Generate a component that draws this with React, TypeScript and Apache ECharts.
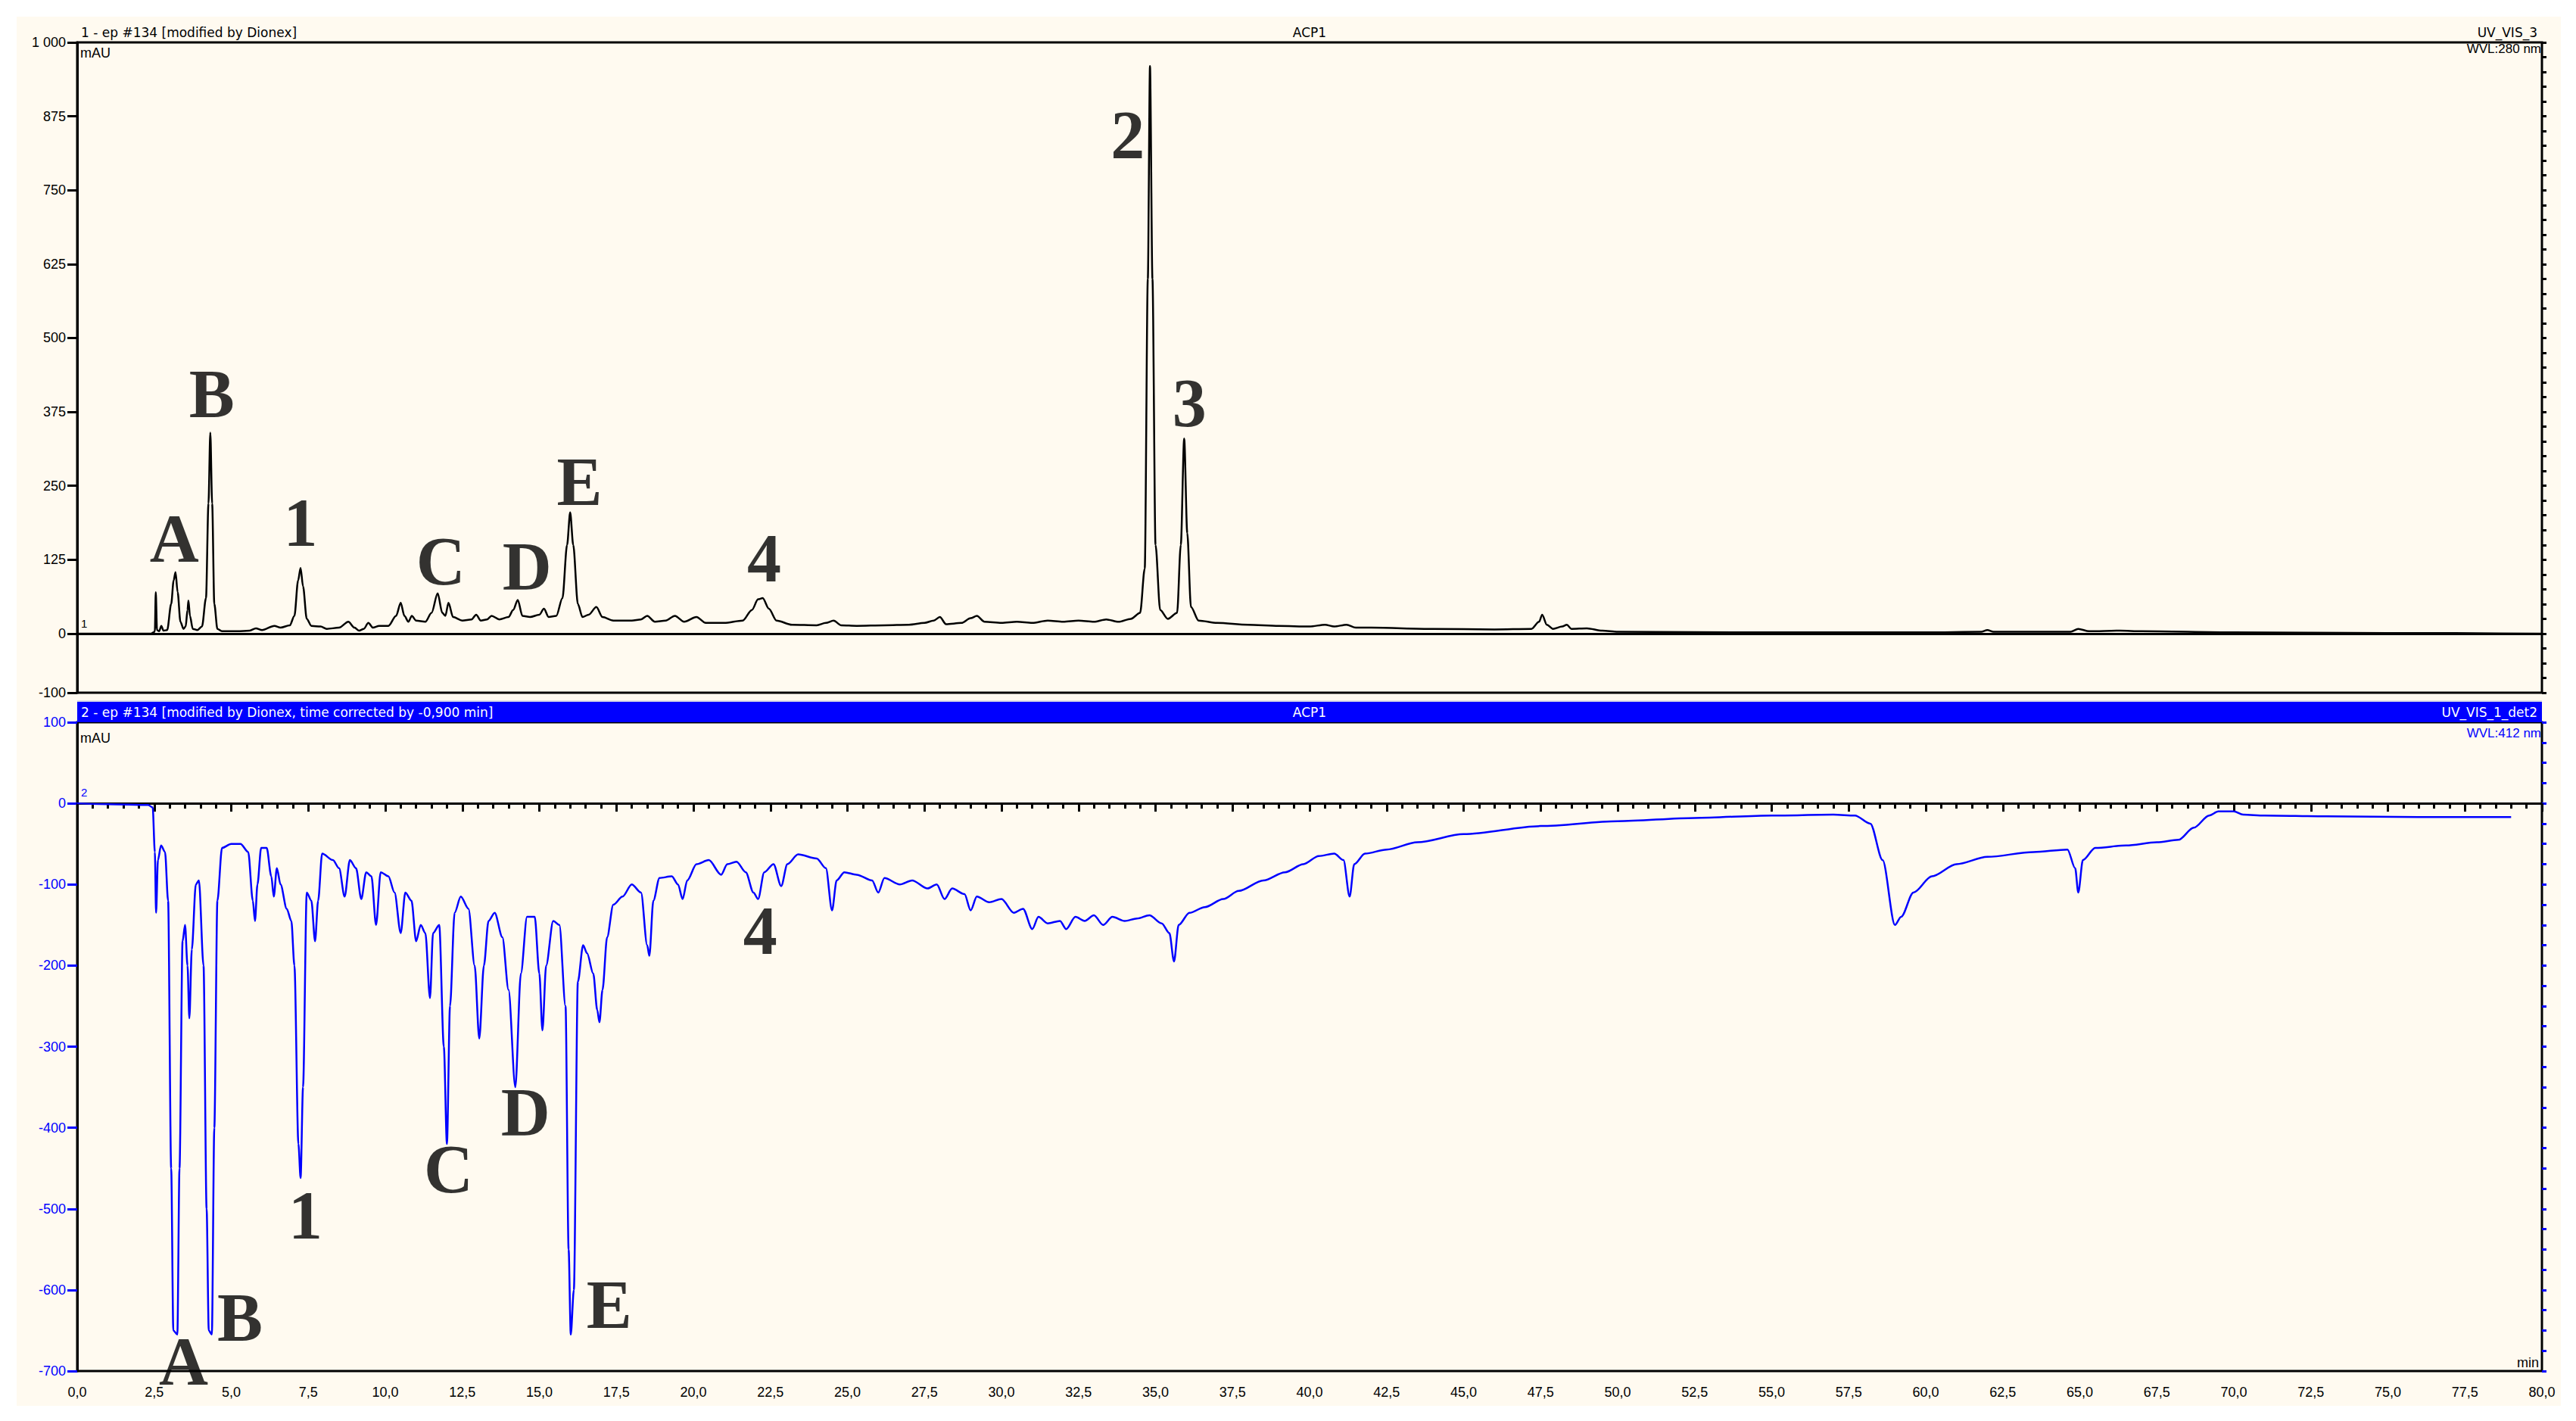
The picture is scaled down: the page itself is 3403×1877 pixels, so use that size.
import React, { useEffect, useRef } from "react";
import * as echarts from "echarts";

// ---- Data ----
// Upper chromatogram: UV_VIS_3, 280 nm  [time (min), absorbance (mAU)]
const trace280: [number, number][] = [
  [0, 0], [2.4, 0], [2.48, 2], [2.52, 4], [2.55, 70], [2.59, 6], [2.66, 4], [2.73, 13], [2.8, 5], [2.92, 6],
  [3.05, 50], [3.13, 90], [3.19, 104], [3.26, 70], [3.35, 20], [3.45, 8], [3.52, 12], [3.58, 40], [3.61, 56],
  [3.66, 30], [3.75, 8], [3.9, 6], [4.05, 12], [4.18, 60], [4.26, 220], [4.32, 340], [4.38, 220], [4.45, 50],
  [4.55, 8], [4.7, 4], [5.2, 4], [5.6, 5], [5.8, 9], [6.0, 6], [6.4, 13], [6.6, 10], [6.9, 14], [7.05, 30],
  [7.17, 90], [7.25, 111], [7.33, 80], [7.45, 25], [7.6, 13], [7.9, 12], [8.1, 8], [8.5, 10], [8.8, 20],
  [9.0, 10], [9.15, 5], [9.3, 8], [9.45, 18], [9.6, 10], [9.8, 13], [10.1, 13], [10.35, 30], [10.5, 52],
  [10.62, 30], [10.75, 20], [10.86, 30], [11.0, 22], [11.3, 20], [11.5, 35], [11.7, 68], [11.85, 35],
  [11.95, 30], [12.05, 52], [12.2, 28], [12.5, 22], [12.8, 24], [12.95, 32], [13.1, 22], [13.3, 24],
  [13.45, 30], [13.7, 24], [14.0, 28], [14.15, 40], [14.3, 57], [14.45, 30], [14.7, 28], [15.0, 32],
  [15.15, 42], [15.3, 28], [15.55, 30], [15.75, 60], [15.9, 150], [16.0, 205], [16.1, 150], [16.25, 50],
  [16.4, 28], [16.6, 32], [16.85, 45], [17.05, 28], [17.4, 22], [18.0, 22], [18.3, 24], [18.5, 30],
  [18.75, 20], [19.1, 22], [19.4, 30], [19.7, 20], [20.1, 28], [20.4, 18], [21.0, 18], [21.6, 22],
  [21.9, 40], [22.1, 58], [22.25, 60], [22.45, 42], [22.7, 22], [23.2, 15], [24.0, 14], [24.3, 18],
  [24.55, 22], [24.8, 14], [25.3, 13], [26.2, 14], [27.0, 15], [27.5, 18], [27.8, 22], [28.0, 28],
  [28.2, 16], [28.7, 18], [29.0, 26], [29.2, 30], [29.45, 20], [30.0, 18], [30.5, 20], [31.0, 18],
  [31.5, 22], [32.0, 20], [32.5, 22], [33.0, 20], [33.4, 24], [33.8, 20], [34.2, 25], [34.5, 35],
  [34.65, 110], [34.75, 600], [34.82, 960], [34.9, 600], [35.0, 150], [35.15, 40], [35.4, 25], [35.7, 35],
  [35.82, 150], [35.93, 330], [36.03, 170], [36.15, 45], [36.4, 22], [37.0, 18], [38.0, 15], [39.0, 13],
  [40.0, 12], [40.5, 15], [40.8, 12], [41.2, 15], [41.5, 10], [42.0, 10], [44.0, 8], [46.0, 7], [47.2, 8],
  [47.45, 20], [47.55, 32], [47.7, 15], [47.9, 8], [48.2, 12], [48.35, 15], [48.5, 8], [49.0, 9], [49.5, 5],
  [50.0, 3], [55.0, 2], [60.0, 2], [61.8, 3], [62.0, 6], [62.2, 3], [64.7, 3], [64.95, 8], [65.3, 4],
  [66.3, 5], [67.0, 4], [70.0, 2], [75.0, 1], [80.0, 0],
];

// Lower chromatogram: UV_VIS_1_det2, 412 nm  [time (min), absorbance (mAU)]
const trace412: [number, number][] = [
  [0, 0], [1, -1], [2.3, -2], [2.45, -5], [2.52, -60], [2.56, -135], [2.62, -70], [2.72, -52], [2.85, -60],
  [2.95, -120], [3.05, -450], [3.12, -650], [3.25, -655], [3.32, -450], [3.42, -170], [3.5, -150], [3.58, -200],
  [3.64, -265], [3.72, -180], [3.85, -100], [3.95, -95], [4.1, -200], [4.2, -500], [4.27, -650], [4.37, -655],
  [4.45, -400], [4.55, -120], [4.7, -55], [5.0, -50], [5.3, -50], [5.55, -60], [5.7, -120], [5.77, -145],
  [5.85, -100], [5.97, -55], [6.15, -55], [6.3, -90], [6.38, -115], [6.48, -80], [6.6, -100], [6.8, -130],
  [6.95, -145], [7.05, -200], [7.18, -420], [7.25, -462], [7.33, -350], [7.45, -110], [7.6, -120], [7.72, -170],
  [7.82, -120], [7.95, -62], [8.3, -70], [8.5, -80], [8.68, -115], [8.85, -70], [9.05, -80], [9.22, -118],
  [9.38, -85], [9.55, -90], [9.7, -150], [9.85, -85], [10.1, -90], [10.3, -110], [10.5, -160], [10.65, -110],
  [10.85, -120], [11.0, -170], [11.15, -150], [11.3, -160], [11.45, -240], [11.55, -160], [11.75, -150],
  [11.9, -300], [12.0, -420], [12.1, -250], [12.25, -135], [12.45, -115], [12.7, -130], [12.9, -200],
  [13.05, -290], [13.2, -200], [13.35, -145], [13.55, -135], [13.8, -165], [14.0, -230], [14.22, -350],
  [14.4, -210], [14.6, -140], [14.85, -140], [15.0, -210], [15.1, -280], [15.22, -200], [15.45, -145],
  [15.65, -150], [15.85, -250], [15.95, -550], [16.02, -655], [16.12, -600], [16.25, -220], [16.42, -175],
  [16.55, -185], [16.75, -210], [16.88, -255], [16.95, -270], [17.05, -230], [17.2, -165], [17.4, -125],
  [17.7, -115], [18.0, -100], [18.3, -110], [18.5, -175], [18.57, -188], [18.7, -120], [18.9, -92], [19.3, -90],
  [19.5, -100], [19.65, -118], [19.8, -95], [20.1, -75], [20.5, -70], [20.9, -88], [21.1, -75], [21.4, -72],
  [21.7, -85], [21.95, -110], [22.1, -118], [22.3, -85], [22.6, -75], [22.85, -102], [23.05, -75], [23.4, -63],
  [24.0, -68], [24.3, -80], [24.5, -132], [24.65, -95], [24.9, -85], [25.3, -88], [25.8, -95], [26.0, -110],
  [26.2, -92], [26.7, -100], [27.1, -95], [27.6, -105], [27.9, -100], [28.15, -118], [28.4, -105], [28.8, -112],
  [29.0, -132], [29.2, -115], [29.6, -122], [30.0, -118], [30.4, -135], [30.7, -130], [31.0, -155], [31.2, -140],
  [31.5, -148], [31.9, -145], [32.1, -155], [32.4, -140], [32.7, -145], [33.0, -138], [33.3, -150], [33.6, -140],
  [34.0, -145], [34.4, -142], [34.8, -138], [35.2, -148], [35.45, -160], [35.6, -195], [35.75, -150],
  [36.1, -135], [36.6, -128], [37.2, -118], [37.7, -108], [38.5, -95], [39.2, -85], [39.8, -75], [40.3, -65],
  [40.8, -62], [41.1, -70], [41.3, -115], [41.45, -75], [41.8, -62], [42.5, -57], [43.5, -48], [45.0, -38],
  [47.5, -28], [50.0, -22], [52.5, -18], [55.0, -15], [57.0, -14], [57.7, -15], [58.2, -25], [58.6, -70],
  [59.0, -150], [59.2, -140], [59.6, -110], [60.2, -90], [61.0, -75], [62.0, -66], [63.5, -60], [64.6, -57],
  [64.85, -80], [64.95, -110], [65.1, -70], [65.5, -55], [66.5, -52], [67.5, -48], [68.2, -45], [68.7, -30],
  [69.2, -15], [69.5, -10], [70.0, -10], [70.3, -14], [71.0, -15], [73.0, -16], [76.0, -17], [79.0, -17],
];

// Peak annotations [label, time (min), mAU]
const peaks280: [string, number, number][] = [
  ["A", 3.15, 160], ["B", 4.37, 405], ["1", 7.25, 188], ["C", 11.8, 122], ["D", 14.6, 113],
  ["E", 16.3, 257], ["4", 22.3, 127], ["2", 34.1, 843], ["3", 36.1, 390],
];
const peaks412: [string, number, number][] = [
  ["A", 3.45, -688], ["B", 5.28, -634], ["1", 7.41, -508], ["C", 12.05, -451], ["D", 14.55, -381],
  ["E", 17.27, -618], ["4", 22.17, -157],
];

// Tick values
const topMajorTicks = [-100, 0, 125, 250, 375, 500, 625, 750, 875, 1000];
const topMinorTicks: number[] = [
  -100, -75, -50, -25, 0, 25, 50, 75, 100, 125, 150, 175, 200, 225, 250, 275, 300, 325, 350, 375, 400, 425, 450,
  475, 500, 525, 550, 575, 600, 625, 650, 675, 700, 725, 750, 775, 800, 825, 850, 875, 900, 925, 950, 975, 1000,
];
const bottomMajorTicks = [-700, -600, -500, -400, -300, -200, -100, 0, 100];
const bottomMinorTicks: number[] = [
  -700, -675, -650, -625, -600, -575, -550, -525, -500, -475, -450, -425, -400, -375, -350, -325, -300, -275,
  -250, -225, -200, -175, -150, -125, -100, -75, -50, -25, 0, 25, 50, 75, 100,
];

// Header texts
const header1Left = "1 - ep #134 [modified by Dionex]";
const header2Left = "2 - ep #134 [modified by Dionex, time corrected by -0,900 min]";
const headerCenter = "ACP1";
const header1Right = "UV_VIS_3";
const header2Right = "UV_VIS_1_det2";
const wvl1 = "WVL:280 nm";
const wvl2 = "WVL:412 nm";

const SANS = "Liberation Sans";
const WIDE = "DejaVu Sans";
const SERIF = "Liberation Serif";
const BLUE = "#0000FF";

export default function App() {
  const ref = useRef<HTMLDivElement>(null);

  useEffect(() => {
    if (!ref.current) return;
    const chart = echarts.init(ref.current, undefined, { renderer: "svg" });

    const L = 102;
    const R = 3358;
    const W = R - L;
    const top1 = 56, h1 = 859;
    const top2 = 954, h2 = 857;

    const txt = (text: string, x: number, y: number, opts: any = {}) => ({
      type: "text",
      x,
      y,
      z: 50,
      style: {
        text,
        fill: opts.fill || "#000",
        fontSize: opts.fontSize || 17,
        fontFamily: opts.fontFamily || WIDE,
        align: opts.align || "left",
        verticalAlign: "middle",
      },
    });

    const labelSeries = (data: [string, number, number][], xi: number, yi: number) => ({
      type: "scatter",
      xAxisIndex: xi,
      yAxisIndex: yi,
      clip: false,
      symbolSize: 1,
      itemStyle: { color: "transparent" },
      silent: true,
      z: 10,
      data: data.map((d) => ({ name: d[0], value: [d[1], d[2]] })),
      label: {
        show: true,
        position: "inside",
        formatter: (p: any) => p.name,
        fontFamily: SERIF,
        fontWeight: "bold",
        fontSize: 90,
        color: "#000",
        align: "center",
        verticalAlign: "middle",
      },
    });

    const option: any = {
      animation: false,
      backgroundColor: "#ffffff",
      graphic: [
        { type: "rect", z: -10, shape: { x: 22, y: 22, width: 3361, height: 1835 }, style: { fill: "#FFFAF0" } },
        { type: "rect", z: 40, shape: { x: L, y: 927, width: W, height: 27 }, style: { fill: BLUE } },
        { type: "line", z: 41, shape: { x1: L, y1: 926, x2: R, y2: 926 }, style: { stroke: "#B8C0D8", lineWidth: 1 } },
        txt(header1Left, L + 5, 43),
        txt(headerCenter, (L + R) / 2, 43, { align: "center" }),
        txt(header1Right, R - 6, 43, { align: "right" }),
        txt("mAU", L + 4, 70, { fontFamily: SANS, fontSize: 18 }),
        txt(wvl1, R - 1, 64, { align: "right", fontFamily: SANS, fontSize: 17 }),
        txt("1", L + 5, 823, { fontSize: 15, fontFamily: SANS }),
        txt(header2Left, L + 5, 941, { fill: "#fff" }),
        txt(headerCenter, (L + R) / 2, 941, { align: "center", fill: "#fff" }),
        txt(header2Right, R - 6, 941, { align: "right", fill: "#fff" }),
        txt("mAU", L + 4, 975, { fontFamily: SANS, fontSize: 18 }),
        txt(wvl2, R - 1, 968, { align: "right", fill: BLUE, fontFamily: SANS, fontSize: 17 }),
        txt("2", L + 5, 1046, { fontSize: 15, fill: BLUE, fontFamily: SANS }),
        txt("min", R - 4, 1800, { align: "right", fontFamily: SANS, fontSize: 18 }),
      ],
      grid: [
        { left: L, top: top1, width: W, height: h1, show: true, borderColor: "#000", borderWidth: 3, backgroundColor: "transparent" },
        { left: L, top: top2, width: W, height: h2, show: true, borderColor: "#000", borderWidth: 3, backgroundColor: "transparent" },
      ],
      xAxis: [
        {
          type: "value",
          gridIndex: 0,
          min: 0,
          max: 80,
          interval: 2.5,
          axisLine: { show: true, lineStyle: { color: "#000", width: 3 } },
          axisTick: { show: false },
          axisLabel: { show: false },
          splitLine: { show: false },
        },
        {
          type: "value",
          gridIndex: 1,
          min: 0,
          max: 80,
          interval: 2.5,
          axisLine: { show: true, lineStyle: { color: "#000", width: 3 } },
          axisTick: { show: true, length: 11, lineStyle: { color: "#000", width: 3 } },
          minorTick: { show: true, splitNumber: 5, length: 7, lineStyle: { color: "#000", width: 3 } },
          axisLabel: {
            fontFamily: SANS,
            fontSize: 18,
            color: "#000",
            margin: 19,
            showMinLabel: true,
            showMaxLabel: true,
            formatter: (v: number) => v.toFixed(1).replace(".", ","),
          },
          splitLine: { show: false },
        },
      ],
      yAxis: [
        {
          type: "value",
          gridIndex: 0,
          min: -100,
          max: 1000,
          axisLine: { show: true, lineStyle: { color: "#000", width: 3 } },
          axisTick: { show: true, customValues: topMajorTicks, length: 13, lineStyle: { color: "#000", width: 3 } },
          axisLabel: {
            customValues: topMajorTicks,
            fontFamily: SANS,
            fontSize: 18,
            color: "#000",
            margin: 15,
            formatter: (v: number) => (v === 1000 ? "1 000" : String(v)),
          },
          splitLine: { show: false },
        },
        {
          type: "value",
          gridIndex: 0,
          min: -100,
          max: 1000,
          axisLine: { show: false },
          axisTick: { show: true, customValues: topMinorTicks, length: 6, lineStyle: { color: "#000", width: 3 } },
          axisLabel: { show: false },
          splitLine: { show: false },
        },
        {
          type: "value",
          gridIndex: 1,
          min: -700,
          max: 100,
          axisLine: { show: true, lineStyle: { color: "#000", width: 3 } },
          axisTick: { show: true, customValues: bottomMajorTicks, length: 13, lineStyle: { color: BLUE, width: 3 } },
          axisLabel: {
            customValues: bottomMajorTicks,
            showMinLabel: true,
            showMaxLabel: true,
            hideOverlap: false,
            fontFamily: SANS,
            fontSize: 18,
            color: BLUE,
            margin: 15,
          },
          splitLine: { show: false },
        },
        {
          type: "value",
          gridIndex: 1,
          min: -700,
          max: 100,
          axisLine: { show: false },
          axisTick: { show: true, customValues: bottomMinorTicks, length: 6, lineStyle: { color: BLUE, width: 3 } },
          axisLabel: { show: false },
          splitLine: { show: false },
        },
      ],
      series: [
        {
          type: "line",
          xAxisIndex: 0,
          yAxisIndex: 0,
          data: trace280,
          showSymbol: false,
          symbol: "none",
          smooth: 0.3,
          smoothMonotone: "x",
          lineStyle: { color: "#000", width: 2.5 },
          z: 5,
        },
        {
          type: "line",
          xAxisIndex: 1,
          yAxisIndex: 2,
          data: trace412,
          showSymbol: false,
          symbol: "none",
          smooth: 0.3,
          smoothMonotone: "x",
          lineStyle: { color: BLUE, width: 2.5 },
          z: 5,
        },
        labelSeries(peaks280, 0, 0),
        labelSeries(peaks412, 1, 2),
      ],
    };

    chart.setOption(option);
    return () => chart.dispose();
  }, []);

  return <div ref={ref} style={{ position: "absolute", left: 0, top: 0, width: 3403, height: 1877 }} />;
}
